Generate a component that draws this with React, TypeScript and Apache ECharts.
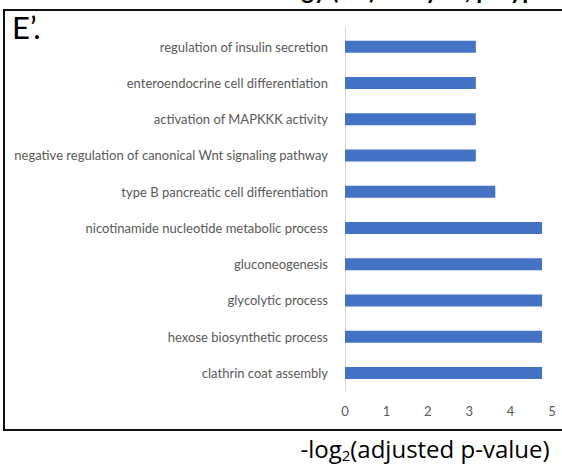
import React, { useEffect, useRef } from "react";
import * as echarts from "echarts";

const categories: string[] = [
  "regulation of insulin secretion",
  "enteroendocrine cell differentiation",
  "activation of MAPKKK activity",
  "negative regulation of canonical Wnt signaling pathway",
  "type B pancreatic cell differentiation",
  "nicotinamide nucleotide metabolic process",
  "gluconeogenesis",
  "glycolytic process",
  "hexose biosynthetic process",
  "clathrin coat assembly",
];

const values: number[] = [3.16, 3.16, 3.16, 3.16, 3.63, 4.76, 4.76, 4.76, 4.76, 4.76];

const xTicks: number[] = [0, 1, 2, 3, 4, 5];

const panelLabel = "E\u2019.";
const cutTitle = "Gene Ontology (BP) analysis, polyp";

export default function App() {
  const ref = useRef<HTMLDivElement>(null);

  useEffect(() => {
    document.body.style.margin = "0";
    if (!ref.current) return;
    const chart = echarts.init(ref.current, undefined, { renderer: "svg" });
    chart.setOption({
      animation: false,
      backgroundColor: "#ffffff",
      textStyle: { fontFamily: "Lato" },
      grid: { left: 345, right: 10, top: 28.5, bottom: 79, containLabel: false },
      xAxis: {
        type: "value",
        min: xTicks[0],
        max: xTicks[xTicks.length - 1],
        interval: 1,
        axisLine: { show: false },
        axisTick: { show: false },
        splitLine: { show: false },
        axisLabel: { color: "#595959", fontSize: 13, fontFamily: "Lato", margin: 13 },
      },
      yAxis: {
        type: "category",
        data: categories,
        inverse: true,
        axisLine: { show: true, lineStyle: { color: "#d9d9d9", width: 1 } },
        axisTick: { show: false },
        axisLabel: { color: "#595959", fontSize: 13, fontFamily: "Lato", margin: 17 },
      },
      series: [
        {
          type: "bar",
          data: values,
          barWidth: 12,
          itemStyle: { color: "#4472c4" },
        },
      ],
      graphic: [
        {
          type: "rect",
          shape: { x: 4, y: 10, width: 620, height: 420 },
          style: { fill: "none", stroke: "#111", lineWidth: 2 },
          z: 10,
        },
        {
          type: "text",
          x: 12,
          y: 11,
          style: {
            text: panelLabel,
            fontSize: 31,
            fontFamily: "Lato",
            fill: "#000",
            textVerticalAlign: "top",
          },
        },
        {
          type: "text",
          x: 350,
          y: -23,
          style: {
            text: cutTitle,
            fontSize: 24,
            fontWeight: "bold",
            fontFamily: "Lato",
            fill: "#000",
            textAlign: "center",
            textVerticalAlign: "top",
          },
        },
        {
          type: "text",
          x: 425,
          y: 448,
          style: {
            text: "-log{s|2}(adjusted p-value)",
            fontSize: 24,
            fontFamily: "Open Sans",
            fill: "#000",
            textAlign: "center",
            textVerticalAlign: "middle",
            rich: {
              s: { fontSize: 15, fontFamily: "Open Sans", fill: "#000", padding: [14, 0, 0, 0] },
            },
          },
        },
      ],
    });
    return () => chart.dispose();
  }, []);

  return <div ref={ref} style={{ width: 562, height: 470 }} />;
}
